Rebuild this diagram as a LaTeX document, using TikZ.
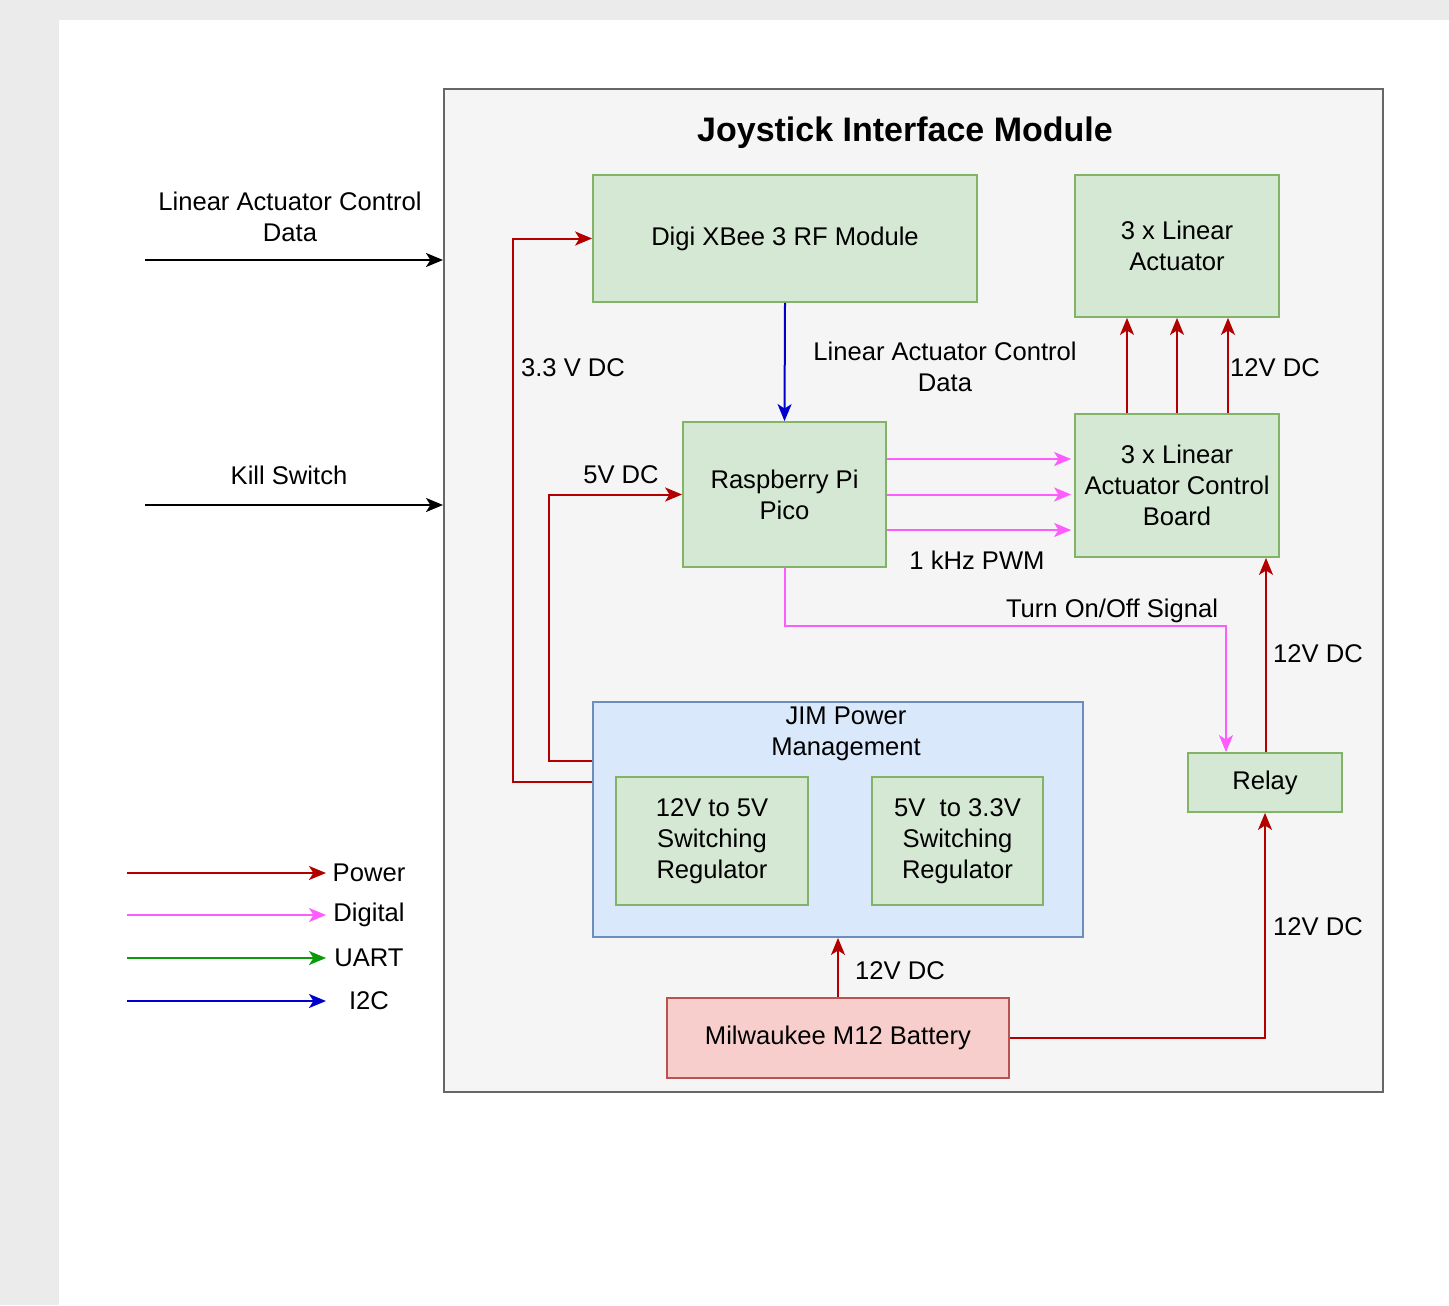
\documentclass[tikz,border=0pt]{standalone}
\usepackage{fontspec}
\setmainfont{Liberation Sans}
\usepackage{tikz}
\usetikzlibrary{positioning,calc,arrows.meta}

\definecolor{pagegray}{HTML}{EBEBEB}
\definecolor{modfill}{HTML}{F5F5F5}
\definecolor{modline}{HTML}{666666}
\definecolor{grnfill}{HTML}{D5E8D4}
\definecolor{grnline}{HTML}{82B366}
\definecolor{blufill}{HTML}{DAE8FC}
\definecolor{bluline}{HTML}{6C8EBF}
\definecolor{redfill}{HTML}{F8CECC}
\definecolor{redline}{HTML}{B85450}
\definecolor{pwrred}{HTML}{B20000}
\definecolor{digpink}{HTML}{FF5CFF}
\definecolor{uartgrn}{HTML}{0A9A0A}
\definecolor{i2cblue}{HTML}{0000CC}

\begin{document}
\begin{tikzpicture}[
    x=0.5pt, y=-0.5pt,
    txt/.style={align=center, font=\fontsize{12.8pt}{15.5pt}\selectfont},
    blk/.style={rectangle, draw=grnline, fill=grnfill, line width=0.9pt, inner sep=0pt, txt},
    tip/.style={-{Stealth[length=8.5pt, width=7pt, inset=2.2pt]}},
    pwr/.style={tip, draw=pwrred, line width=1pt},
    dig/.style={tip, draw=digpink, line width=1pt},
    uart/.style={tip, draw=uartgrn, line width=1pt},
    itc/.style={tip, draw=i2cblue, line width=1pt},
    sig/.style={tip, draw=black, line width=1pt},
]

% Page
\useasboundingbox (0,0) rectangle (1449,1305);
\fill[pagegray] (0,0) rectangle (1449,1305);
\fill[white] (59,20) rectangle (1449,1305);

% Module frame
\node[rectangle, draw=modline, fill=modfill, line width=1pt, minimum width=469.5pt, minimum height=501.5pt] (jim) at (913.5,590.5) {};
\node[font=\bfseries\fontsize{17pt}{20pt}\selectfont] (title) at (905,133) {Joystick Interface Module};

% Row 1 - Top boxes
\node[blk, minimum width=192pt, minimum height=63.5pt] (xbee) at (785,238.5) {Digi XBee 3 RF Module};
\node[blk, minimum width=102pt, minimum height=71pt] (act) at (1177,246) {3 x Linear\\Actuator};

% Row 2 - Controller and driver
\node[blk, minimum width=101.5pt, minimum height=72.5pt] (pico) at (784.5,494.5) {Raspberry Pi\\Pico};
\node[blk, minimum width=102pt, minimum height=71.5pt] (board) at (1177,485.5) {3 x Linear\\Actuator Control\\Board};

% Row 3 - Power
\node[rectangle, draw=bluline, fill=blufill, line width=0.9pt, minimum width=245pt, minimum height=117.5pt] (pm) at (838,819.5) {};
\node[txt] (pmlabel) at (846,734) {JIM Power\\Management};
\node[blk, minimum width=96pt, minimum height=64pt] (buck) at (712,841) {12V to 5V\\Switching\\Regulator};
\node[blk, minimum width=85.5pt, minimum height=64pt] (ldo) at (957.5,841) {5V~ to 3.3V\\Switching\\Regulator};
\node[blk, minimum width=77pt, minimum height=29.5pt] (relay) at (1265,782.5) {Relay};
\node[blk, draw=redline, fill=redfill, minimum width=171pt, minimum height=40pt] (bat) at (838,1038) {Milwaukee M12 Battery};

% Inputs
\coordinate (lacd) at (145,260);
\coordinate (kill) at (145,505);
\draw[sig] (lacd) -- (lacd -| jim.west);
\draw[sig] (kill) -- (kill -| jim.west);
\node[txt] at (290,217) {Linear Actuator Control\\Data};
\node[txt] at (289,475) {Kill Switch};

% Power lines
\draw[pwr] ($(pm.west)+(0,-37.5)$) -| ($(xbee.west)+(-79,0)$) -- (xbee.west);
\draw[pwr] ($(pm.west)+(0,-58.5)$) -| ($(pico.west)+(-133,0)$) -- (pico.west);
\foreach \d in {-50,0,51}
    \draw[pwr] ($(board.north)+(\d,0)$) -- ($(act.south)+(\d,0)$);
\draw[pwr] ($(relay.north)+(1,0)$) -- ($(board.south)+(89,0)$);
\draw[pwr] (bat.north) -- (pm.south);
\draw[pwr] (bat.east) -| (relay.south);
\node[txt] at (573,368) {3.3 V DC};
\node[txt] at (621,475) {5V DC};
\node[txt] at (1275,368) {12V DC};
\node[txt] at (1318,654) {12V DC};
\node[txt] at (900,971) {12V DC};
\node[txt] at (1318,927) {12V DC};

% Data lines
\draw[itc] (xbee.south) -- (pico.north);
\foreach \d in {-35.5,0,35.5}
    \draw[dig] ($(pico.east)+(0,\d)$) -- ($(board.west |- pico.east)+(-3,\d)$);
\draw[dig] (pico.south) |- ($(relay.north)+(-39,-126)$) -- ($(relay.north)+(-39,0)$);
\node[txt] at (945,367) {Linear Actuator Control\\Data};
\node[txt] at (977,560) {1 kHz PWM};
\node[txt] at (1112,611) {Turn On/Off Signal};

% Legend
\foreach \s/\t/\y in {pwr/Power/873, dig/Digital/915, uart/UART/958, itc/I2C/1001} {
    \coordinate (lg\t) at (127,\y);
    \draw[\s] (lg\t) -- ++(199,0);
    \node[txt] at (369,\y) {\t};
}

\end{tikzpicture}
\end{document}
